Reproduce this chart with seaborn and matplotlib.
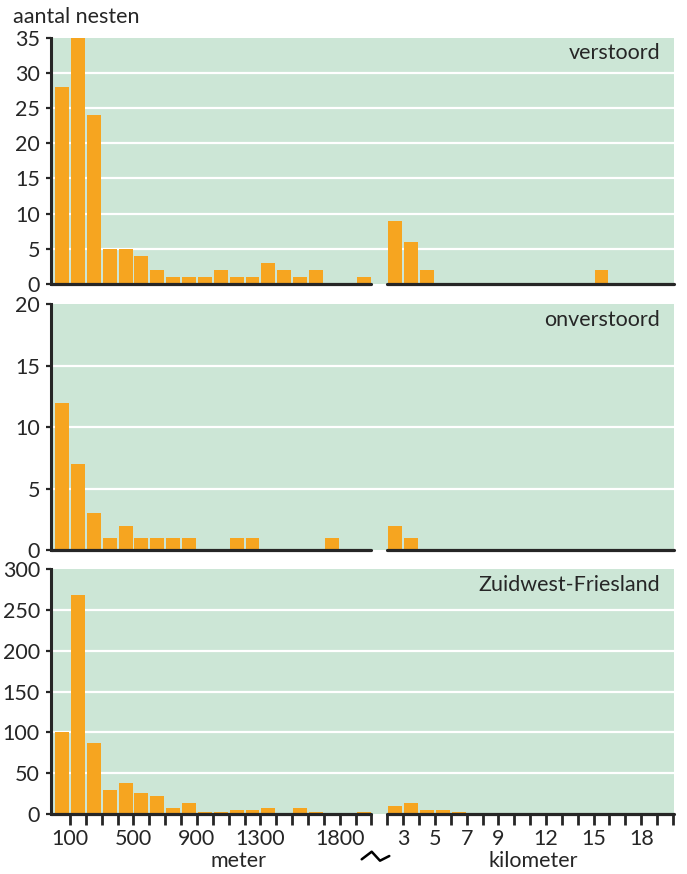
import matplotlib
matplotlib.use('Agg')
import matplotlib.pyplot as plt
from matplotlib.lines import Line2D
import pandas as pd
import seaborn as sns

# lower edges of the bins (100 m bins, then 1 km bins)
meter_bins = [0, 100, 200, 300, 400, 500, 600, 700, 800, 900,
              1000, 1100, 1200, 1300, 1400, 1500, 1600, 1700, 1800, 1900]
km_bins = [2, 3, 4, 5, 6, 7, 8, 9, 10, 11, 12, 13, 14, 15, 16, 17, 18, 19]

verstoord_m = [28, 35, 24, 5, 5, 4, 2, 1, 1, 1, 2, 1, 1, 3, 2, 1, 2, 0, 0, 1]
verstoord_km = [9, 6, 2, 0, 0, 0, 0, 0, 0, 0, 0, 0, 0, 2, 0, 0, 0, 0]

onverstoord_m = [12, 7, 3, 1, 2, 1, 1, 1, 1, 0, 0, 1, 1, 0, 0, 0, 0, 1, 0, 0]
onverstoord_km = [2, 1, 0, 0, 0, 0, 0, 0, 0, 0, 0, 0, 0, 0, 0, 0, 0, 0]

zwf_m = [100, 268, 87, 29, 38, 26, 22, 7, 13, 2, 2, 5, 5, 7, 1, 7, 2, 0, 0, 2]
zwf_km = [10, 14, 5, 5, 2, 0, 0, 0, 0, 0, 0, 0, 0, 0, 0, 0, 0, 0]

meter_ticks = [100, 200, 300, 400, 500, 600, 700, 800, 900, 1000,
               1100, 1200, 1300, 1400, 1500, 1600, 1700, 1800, 1900, 2000]
km_ticks = [2, 3, 4, 5, 6, 7, 8, 9, 10, 11, 12, 13, 14, 15, 16, 17, 18, 19, 20]
meter_labels = ['100', '500', '900', '1300', '1800']
km_labels = ['3', '5', '7', '9', '12', '15', '18']

GREEN = '#cce6d6'
ORANGE = '#f6a520'
DARK = '#262626'
FS = 15.5

sns.set_style('ticks')
plt.rcParams['font.family'] = ['Lato', 'DejaVu Sans']
plt.rcParams['font.size'] = FS


# the broken axis: 0-2000 m on the left, one empty bin, then 2-20 km
def m_pos(m):
    return m / 100


def km_pos(k):
    return k + 19


fig = plt.figure(figsize=(6.87, 8.74), dpi=100)
W, H = 687, 874


def add_panel(top, bottom):
    return fig.add_axes([51 / W, 1 - bottom / H, 622.7 / W, (bottom - top) / H])


panels = [
    ('verstoord', verstoord_m, verstoord_km, 35, 5, add_panel(37.7, 284)),
    ('onverstoord', onverstoord_m, onverstoord_km, 20, 5, add_panel(304, 550.3)),
    ('Zuidwest-Friesland', zwf_m, zwf_km, 300, 50, add_panel(569, 814)),
]

x_lo, x_hi = -0.2, 39.05

for i, (title, counts_m, counts_km, ymax, ystep, ax) in enumerate(panels):
    df = pd.DataFrame({
        'pos': [m_pos(m) + 0.5 for m in meter_bins] + [km_pos(k) + 0.5 for k in km_bins],
        'count': counts_m + counts_km,
    })
    ax.set_facecolor(GREEN)

    yt = list(range(0, ymax + 1, ystep))
    for y in yt[1:-1]:
        ax.axhline(y, color='white', linewidth=1.6, zorder=1)

    sns.barplot(data=df, x='pos', y='count', native_scale=True, color=ORANGE,
                saturation=1, width=0.88, errorbar=None, linewidth=0,
                ax=ax, zorder=2)

    ax.set_xlim(x_lo, x_hi)
    ax.set_ylim(0, ymax)
    ax.set_yticks(yt)
    ax.set_xlabel('')
    ax.set_ylabel('')

    for side in ['top', 'right', 'bottom']:
        ax.spines[side].set_visible(False)
    ax.spines['left'].set_color(DARK)
    ax.spines['left'].set_linewidth(2.2)
    ax.tick_params(axis='y', length=3.5, width=1.6, color=DARK, pad=4.5,
                   labelsize=FS, labelcolor=DARK, left=True, direction='out')

    # two separate baseline pieces
    span = x_hi - x_lo
    ax.axhline(0, xmin=0, xmax=(m_pos(2000) - x_lo) / span, color=DARK,
               linewidth=2.3, zorder=4, clip_on=False)
    ax.axhline(0, xmin=(km_pos(2) - x_lo) / span, xmax=1, color=DARK,
               linewidth=2.3, zorder=4, clip_on=False)

    ax.text(0.978, 0.912, title, transform=ax.transAxes, ha='right',
            va='baseline', fontsize=FS, color=DARK)

    if i < 2:
        ax.set_xticks([])
    else:
        ax.set_xticks([m_pos(m) for m in meter_ticks] + [km_pos(k) for k in km_ticks])
        ax.set_xticklabels([str(m) if str(m) in meter_labels else '' for m in meter_ticks]
                           + [str(k) if str(k) in km_labels else '' for k in km_ticks])
        ax.tick_params(axis='x', length=8, width=2.0, color=DARK, pad=3,
                       labelsize=FS, labelcolor=DARK, bottom=True,
                       direction='out')

fig.text(13 / W, 1 - 17 / H, 'aantal nesten', ha='left', va='center',
         fontsize=FS, color=DARK)
fig.text(238 / W, 1 - 861 / H, 'meter', ha='center', va='center',
         fontsize=FS, color=DARK)
fig.text(533 / W, 1 - 861 / H, 'kilometer', ha='center', va='center',
         fontsize=FS, color=DARK)

# break mark between meter and kilometer
zx = [361.7, 371.7, 380, 389.3]
zy = [859.3, 851.7, 860.7, 856]
fig.add_artist(Line2D([x / W for x in zx], [1 - y / H for y in zy],
                      transform=fig.transFigure, color='black', linewidth=1.8))

fig.savefig('out.png', dpi=100)
